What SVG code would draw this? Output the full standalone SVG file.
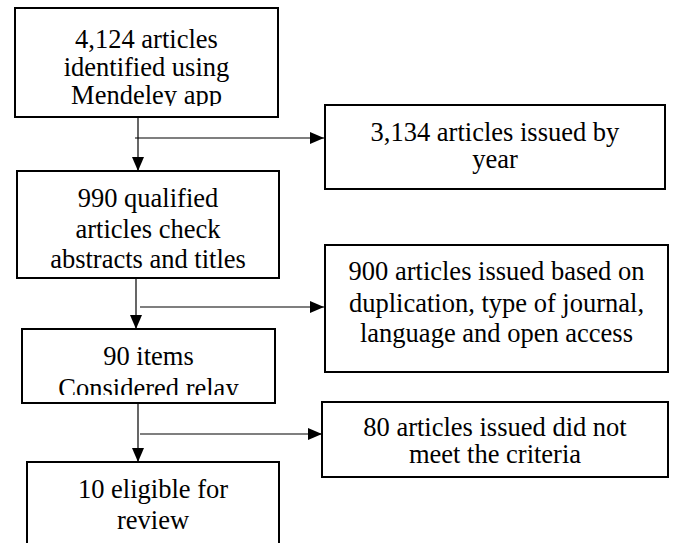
<svg xmlns="http://www.w3.org/2000/svg" width="673" height="543" viewBox="0 0 673 543">
<style>
.box{fill:#fff;stroke:#000;stroke-width:2}
.t{font-family:'Liberation Serif','Times New Roman',serif;font-size:26.5px;fill:#000;text-anchor:middle}
.c{stroke:#000;stroke-width:1.2;fill:none}
</style>
<defs>
<marker id="ah" markerUnits="userSpaceOnUse" markerWidth="14" markerHeight="12" refX="14" refY="6" orient="auto"><path d="M0,0 L14,6 L0,12 Z" fill="#000"/></marker>
<clipPath id="c1"><rect x="0" y="0" width="300" height="106"/></clipPath>
<clipPath id="c5"><rect x="0" y="330" width="300" height="65"/></clipPath>
</defs>
<rect width="673" height="543" fill="#fff"/>
<g id="connectors">
<line class="c" x1="138" y1="118" x2="138" y2="171" marker-end="url(#ah)"/>
<line class="c" x1="135" y1="138" x2="324" y2="138" marker-end="url(#ah)"/>
<line class="c" x1="136" y1="279" x2="136" y2="329" marker-end="url(#ah)"/>
<line class="c" x1="140" y1="307" x2="324" y2="307" marker-end="url(#ah)"/>
<line class="c" x1="138" y1="404" x2="138" y2="462" marker-end="url(#ah)"/>
<line class="c" x1="140" y1="434" x2="322" y2="434" marker-end="url(#ah)"/>
</g>
<g id="n1">
<rect class="box" x="15" y="8" width="263" height="109"/>
<g clip-path="url(#c1)">
<text class="t" x="146.5" y="48">4,124 articles</text>
<text class="t" x="146.5" y="76">identified using</text>
<text class="t" x="146.5" y="104">Mendeley app</text>
</g>
</g>
<g id="n2">
<rect class="box" x="325" y="105" width="340" height="84"/>
<text class="t" x="495" y="141">3,134 articles issued by</text>
<text class="t" x="495" y="168">year</text>
</g>
<g id="n3">
<rect class="box" x="17" y="171" width="262" height="107"/>
<text class="t" x="148" y="207">990 qualified</text>
<text class="t" x="148" y="238">articles check</text>
<text class="t" x="148" y="268">abstracts and titles</text>
</g>
<g id="n4">
<rect class="box" x="325" y="245" width="343" height="127"/>
<text class="t" x="496.5" y="280">900 articles issued based on</text>
<text class="t" x="496.5" y="312">duplication, type of journal,</text>
<text class="t" x="496.5" y="342">language and open access</text>
</g>
<g id="n5">
<rect class="box" x="22" y="329" width="253" height="74"/>
<g clip-path="url(#c5)">
<text class="t" x="148.5" y="365">90 items</text>
<text class="t" x="148.5" y="397">Considered relay</text>
</g>
</g>
<g id="n6">
<rect class="box" x="322" y="402" width="346" height="75"/>
<text class="t" x="495" y="436">80 articles issued did not</text>
<text class="t" x="495" y="463">meet the criteria</text>
</g>
<g id="n7">
<rect class="box" x="27" y="462" width="252" height="100"/>
<text class="t" x="153" y="498">10 eligible for</text>
<text class="t" x="153" y="529">review</text>
</g>
</svg>
